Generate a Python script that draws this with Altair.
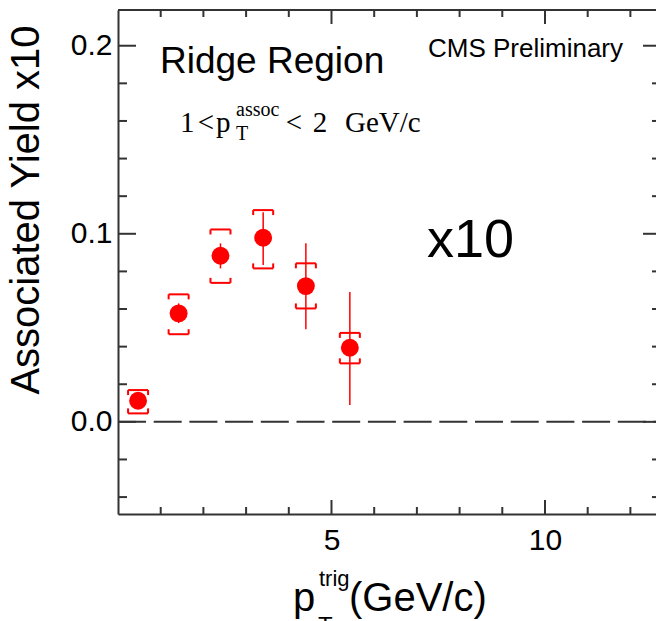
import altair as alt
import pandas as pd

# ---- data ----
pt_trig = [0.47, 1.42, 2.40, 3.40, 4.40, 5.43]
yield_x10 = [0.0112, 0.0577, 0.0883, 0.0979, 0.0722, 0.0394]
stat_lo = [0.0095, 0.0525, 0.0816, 0.0834, 0.0493, 0.0089]
stat_hi = [0.0128, 0.0630, 0.0949, 0.1114, 0.0950, 0.0691]
syst_lo = [0.0045, 0.0466, 0.0739, 0.0816, 0.0603, 0.0311]
syst_hi = [0.0169, 0.0678, 0.1023, 0.1126, 0.0843, 0.0473]

x_major = [5, 10]
x_minor = [1, 2, 3, 4, 6, 7, 8, 9, 11, 12]
y_major = [0.0, 0.1, 0.2]
y_minor = [-0.04, -0.02, 0.02, 0.04, 0.06, 0.08, 0.12, 0.14, 0.16, 0.18]

# ---- layout ----
W, H = 538, 504
LEFT, TOP = 118, 10
X_DOMAIN = [0, 12.6]
Y_DOMAIN = [-0.049, 0.219]
RIGHT_FRAME = W + 5  # right frame lies just outside the picture
RED = "#ff0000"
FRAME = "#333333"
SANS = "Liberation Sans"
SERIF = "Liberation Serif"

df = pd.DataFrame(dict(x=pt_trig, y=yield_x10, slo=stat_lo, shi=stat_hi,
                       ylo=syst_lo, yhi=syst_hi))

xs = alt.Scale(domain=X_DOMAIN, nice=False, zero=False)
ys = alt.Scale(domain=Y_DOMAIN, nice=False, zero=False)

axis_x = alt.Axis(values=x_major, title=None, ticks=False, tickSize=0, labelPadding=11,
                  labelFontSize=30, labelFont=SANS, labelColor="black", labelFlush=False,
                  domainColor=FRAME, domainWidth=2, grid=False)
axis_y = alt.Axis(values=y_major, format=".1f", title=None, ticks=False, tickSize=0,
                  labelPadding=6, labelFontSize=30, labelFont=SANS, labelColor="black",
                  labelFlush=False, domainColor=FRAME, domainWidth=2, grid=False)

base = alt.Chart(df)

points = base.mark_circle(size=320, color=RED, opacity=1).encode(
    x=alt.X("x:Q", scale=xs, axis=axis_x),
    y=alt.Y("y:Q", scale=ys, axis=axis_y),
)
stat = base.mark_rule(color=RED, strokeWidth=1.5).encode(
    x="x:Q", y="slo:Q", y2="shi:Q")

def bracket(field, leg):
    cap = base.mark_rule(color=RED, strokeWidth=2, xOffset=-10, x2Offset=10).encode(
        x="x:Q", x2="x:Q", y=f"{field}:Q")
    l = base.mark_rule(color=RED, strokeWidth=2, xOffset=-10, y2Offset=leg).encode(
        x="x:Q", y=f"{field}:Q", y2=f"{field}:Q")
    r = base.mark_rule(color=RED, strokeWidth=2, xOffset=10, y2Offset=leg).encode(
        x="x:Q", y=f"{field}:Q", y2=f"{field}:Q")
    return [cap, l, r]

syst = bracket("yhi", 5) + bracket("ylo", -5)

zero = alt.Chart(pd.DataFrame({"z": [0.0]})).mark_rule(
    color=FRAME, strokeWidth=2, strokeDash=[28, 7.7]).encode(
    y="z:Q", x=alt.value(0), x2=alt.value(W))

top_frame = alt.Chart(pd.DataFrame({"z": [0]})).mark_rule(color=FRAME, strokeWidth=2).encode(
    x=alt.value(0), x2=alt.value(W), y=alt.value(0))

def xticks(vals, length):
    d = alt.Chart(pd.DataFrame({"t": vals}))
    bot = d.mark_rule(color=FRAME, strokeWidth=2).encode(
        x="t:Q", y=alt.value(H), y2=alt.value(H - length))
    tp = d.mark_rule(color=FRAME, strokeWidth=2).encode(
        x="t:Q", y=alt.value(0), y2=alt.value(length))
    return [bot, tp]

def yticks(vals, length):
    d = alt.Chart(pd.DataFrame({"t": vals}))
    lf = d.mark_rule(color=FRAME, strokeWidth=2).encode(
        y="t:Q", x=alt.value(0), x2=alt.value(length))
    rt = d.mark_rule(color=FRAME, strokeWidth=2).encode(
        y="t:Q", x=alt.value(RIGHT_FRAME - length), x2=alt.value(W))
    return [lf, rt]

ticks = xticks(x_major, 14) + xticks(x_minor, 7) + yticks(y_major, 18) + yticks(y_minor, 9)

def label(text, x, y, size, font=SANS, align="left", angle=0, baseline="alphabetic"):
    return alt.Chart(pd.DataFrame({"t": [text]})).mark_text(
        font=font, fontSize=size, align=align, baseline=baseline, angle=angle,
        color="black").encode(text="t:N", x=alt.value(x), y=alt.value(y))

texts = [
    label("Ridge Region", 42, 63, 37),
    label("CMS Preliminary", 505, 47, 26, align="right"),
    label("x10", 309, 247, 54),
    # 1 < pT^assoc < 2 GeV/c
    label("1", 62, 122, 29, font=SERIF),
    label("<", 88, 122, 29, font=SERIF, align="center"),
    label("p", 98, 122, 29, font=SERIF),
    label("assoc", 118, 106, 20, font=SERIF),
    label("T", 118, 130, 20, font=SERIF),
    label("<", 176, 122, 29, font=SERIF, align="center"),
    label("2", 202, 122, 29, font=SERIF, align="center"),
    label("GeV/c", 227, 122, 29, font=SERIF),
    # axis titles
    label("Associated Yield x10", -79, 200, 40, align="center", angle=270),
    label("p", 175, 601, 40),
    label("T", 200, 624, 24),
    label("trig", 201, 576, 22),
    label("(GeV/c)", 231, 601, 40),
]

chart = alt.layer(points, zero, top_frame, *ticks, stat, *syst, *texts).properties(
    width=W, height=H,
    padding={"left": LEFT, "top": TOP, "right": 0, "bottom": 621 - TOP - H},
    autosize=alt.AutoSizeParams(type="none"),
    background="white",
).configure_view(stroke=None)

chart.save("out.html", embed_options={"renderer": "svg", "actions": False})
